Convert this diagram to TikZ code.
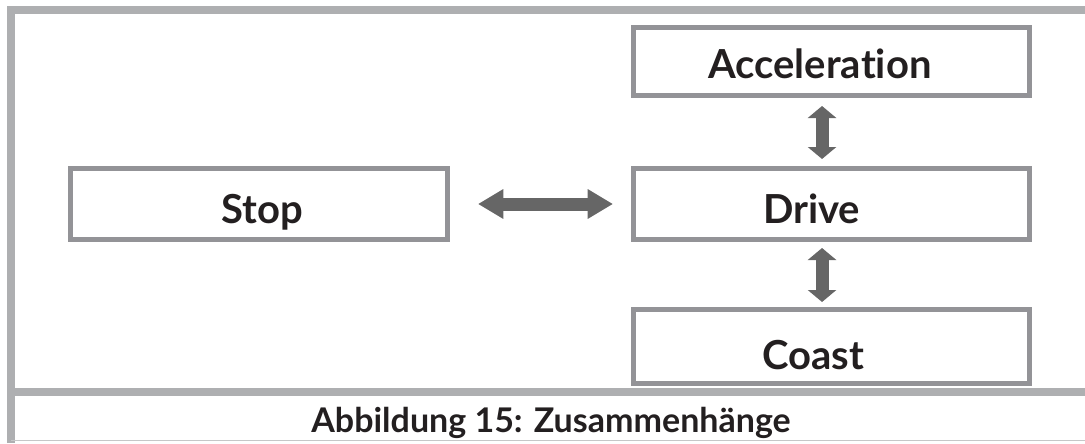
\documentclass[tikz,border=0pt]{standalone}
\usepackage{fontspec}
\setmainfont{Lato}[Ligatures=NoCommon]
\usetikzlibrary{arrows.meta}
\definecolor{framegray}{HTML}{AEAFB1}
\definecolor{boxgray}{HTML}{939397}
\definecolor{arrowgray}{HTML}{666666}
\definecolor{textdark}{HTML}{231F20}
\begin{document}
\begin{tikzpicture}[
        x=0.75pt,
        y=-0.75pt,
        box/.style={draw=boxgray, line width=3.75pt, minimum width=297pt, inner sep=0pt},
        lbl/.style={anchor=base, text=textdark, font=\fontsize{30}{35}\selectfont\bfseries},
        harrow/.style={{Triangle[width=21pt,length=19pt]}-{Triangle[width=21pt,length=19pt]}, line width=9.75pt, draw=arrowgray},
        varrow/.style={{Triangle[width=21pt,length=9pt]}-{Triangle[width=21pt,length=9pt]}, line width=9.75pt, draw=arrowgray}]
\useasboundingbox (0,0) rectangle (1085,443);
\draw[line width=6.6pt, draw=framegray] (1085,10) -| (11,443);
\draw[line width=6pt, draw=framegray] (11,392) -- (1085,392);
\draw[line width=1.2pt, draw=framegray!70] (11,440.5) -- (1085,440.5);
\node[box, minimum height=51pt] (acc) at (831.5,61.5) {};
\node[box, minimum height=53.25pt, minimum width=282.75pt] (stop) at (259,204) {};
\node[box, minimum height=53.25pt] (drive) at (831.5,204) {};
\node[box, minimum height=55.5pt] (coast) at (831.5,346.5) {};
\node[lbl] (acctext) at (820,78) {Acceleration};
\node[lbl] (stoptext) at (262,223) {Stop};
\node[lbl] (drivetext) at (811.5,223) {Drive};
\node[lbl] (coasttext) at (813,369) {Coast};
\draw[harrow, shorten <=21pt, shorten >=13.5pt] (stop.east) -- (drive.west);
\draw[varrow, shorten <=6pt, shorten >=5.25pt] ([xshift=-7.1pt]acc.south) -- ([xshift=-7.1pt]drive.north);
\draw[varrow, shorten <=4.5pt, shorten >=3.75pt] ([xshift=-7.1pt]drive.south) -- ([xshift=-7.1pt]coast.north);
\node[lbl, font=\fontsize{25.5}{30}\selectfont\bfseries] (caption) at (551,432) {Abbildung 15: Zusammenhänge};
\end{tikzpicture}
\end{document}
